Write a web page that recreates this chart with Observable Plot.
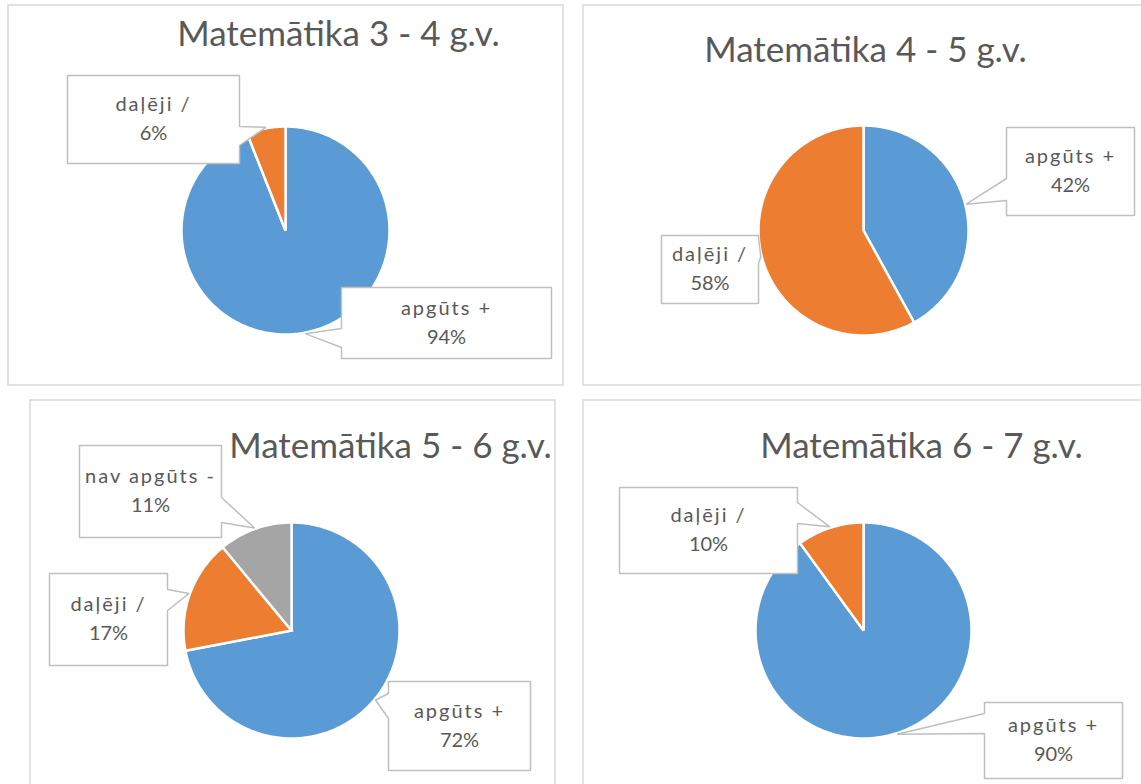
<!DOCTYPE html>
<html>
<head>
<meta charset="utf-8">
<script src="https://cdn.jsdelivr.net/npm/d3@7"></script>
<script src="https://cdn.jsdelivr.net/npm/@observablehq/plot@0.6"></script>
<style>
  html, body { margin: 0; padding: 0; background: #fff; overflow: hidden; }
  svg { display: block; }
</style>
</head>
<body>
<div id="chart"></div>
<script>
// ---------- DATA ----------
const panelTitles = ["Matemātika 3 - 4 g.v.", "Matemātika 4 - 5 g.v.", "Matemātika 5 - 6 g.v.", "Matemātika 6 - 7 g.v."];
const categories = ["apgūts +", "daļēji /", "nav apgūts -"];
const values34 = [94, 6];
const values45 = [42, 58];
const values56 = [72, 17, 11];
const values67 = [90, 10];
const panelValues = [values34, values45, values56, values67];

// ---------- STYLE / LAYOUT ----------
const sliceColors = ["#5B9BD5", "#ED7D31", "#A5A5A5"];
const textColor = "#595959";
const layout = [
  { frame: [8, 5, 563, 385], title: [338, 34], pie: [285, 230, 104],
    callouts: [
      { box: [341, 287, 551, 358], side: "left", base: [328, 347] },
      { box: [67, 75, 239, 163], side: "right", base: [126, 145] }
    ] },
  { frame: [583, 5, 1150, 385], title: [865, 50], pie: [863, 230, 105],
    callouts: [
      { box: [1006, 127, 1134, 215], side: "left", base: [178, 200] },
      { box: [661, 235, 758, 303], side: "right", base: [237, 263] }
    ] },
  { frame: [30, 400, 555, 800], title: [390, 446], pie: [291, 630, 108],
    callouts: [
      { box: [388, 681, 530, 770], side: "left", base: [693, 718] },
      { box: [49, 573, 167, 665], side: "right", base: [589, 610] },
      { box: [79, 445, 221, 537], side: "right", base: [497, 522] }
    ] },
  { frame: [583, 400, 1150, 800], title: [921, 446], pie: [863, 630, 108],
    callouts: [
      { box: [984, 702, 1122, 778], side: "left", base: [713, 733] },
      { box: [619, 487, 797, 573], side: "right", base: [502, 523] }
    ] }
];

// ---------- DERIVED TABLES ----------
const frames = layout.map((L, i) => ({ panel: i, x1: L.frame[0], y1: L.frame[1], x2: L.frame[2], y2: L.frame[3] }));
const titleRows = layout.map((L, i) => ({ text: panelTitles[i], x: L.title[0], y: L.title[1] }));

const slicePts = [];
const calloutPts = [];
const labelRows = [];
panelValues.forEach((vals, p) => {
  const [cx, cy, r] = layout[p].pie;
  const arcs = d3.pie().sort(null).value(d => d)(vals);
  arcs.forEach((a, i) => {
    const key = `p${p}s${i}`;
    const cat = categories[i];
    slicePts.push({ key, category: cat, x: cx, y: cy });
    const n = Math.max(2, Math.ceil((a.endAngle - a.startAngle) / (Math.PI / 180)));
    for (let k = 0; k <= n; k++) {
      const t = a.startAngle + (a.endAngle - a.startAngle) * k / n;
      slicePts.push({ key, category: cat, x: cx + r * Math.sin(t), y: cy - r * Math.cos(t) });
    }
    // callout with pointer to the slice's outer arc midpoint
    const c = layout[p].callouts[i];
    const mid = (a.startAngle + a.endAngle) / 2;
    const tip = [cx + (r + 1) * Math.sin(mid), cy - (r + 1) * Math.cos(mid)];
    const [x1, y1, x2, y2] = c.box;
    let poly;
    if (c.side === "left") {
      poly = [[x1, y1], [x2, y1], [x2, y2], [x1, y2], [x1, c.base[1]], tip, [x1, c.base[0]]];
    } else {
      poly = [[x1, y1], [x2, y1], [x2, c.base[0]], tip, [x2, c.base[1]], [x2, y2], [x1, y2]];
    }
    poly.forEach(([x, y]) => calloutPts.push({ key, x, y }));
    const mx = (x1 + x2) / 2, my = (y1 + y2) / 2;
    labelRows.push({ x: mx, y1: my - 14.5, y2: my + 14.5, name: cat, pct: `${vals[i]}%` });
  });
});

// ---------- PLOT ----------
const svg = Plot.plot({
  width: 1141,
  height: 784,
  margin: 0,
  x: { domain: [0, 1141], range: [0, 1141], axis: null },
  y: { domain: [0, 784], range: [0, 784], axis: null },
  color: { domain: categories, range: sliceColors },
  style: { background: "#fff", fontFamily: "Lato, 'Open Sans', sans-serif", overflow: "hidden" },
  marks: [
    Plot.rect(frames, { x1: "x1", y1: "y1", x2: "x2", y2: "y2", fill: "#fff", stroke: "#D9D9D9", strokeWidth: 1.5 }),
    Plot.line(slicePts, { x: "x", y: "y", z: "key", fill: "category", stroke: "#fff", strokeWidth: 2.5, curve: "linear-closed", strokeLinejoin: "miter", strokeMiterlimit: 2 }),
    Plot.line(calloutPts, { x: "x", y: "y", z: "key", fill: "#fff", stroke: "#BFBFBF", strokeWidth: 1.5, curve: "linear-closed", strokeLinejoin: "miter" }),
    Plot.text(titleRows, { x: "x", y: "y", text: "text", fontSize: 35, fill: textColor, fontFamily: "Lato" }),
    Plot.text(labelRows, { x: "x", y: "y1", text: "name", fontSize: 20, fill: textColor, fontFamily: "Lato" }),
    Plot.text(labelRows, { x: "x", y: "y2", text: "pct", fontSize: 20, fill: textColor, fontFamily: "Lato" })
  ]
});
svg.querySelectorAll("text").forEach(t => {
  if (categories.includes(t.textContent)) t.setAttribute("letter-spacing", "2");
});
document.getElementById("chart").appendChild(svg);
</script>
</body>
</html>
